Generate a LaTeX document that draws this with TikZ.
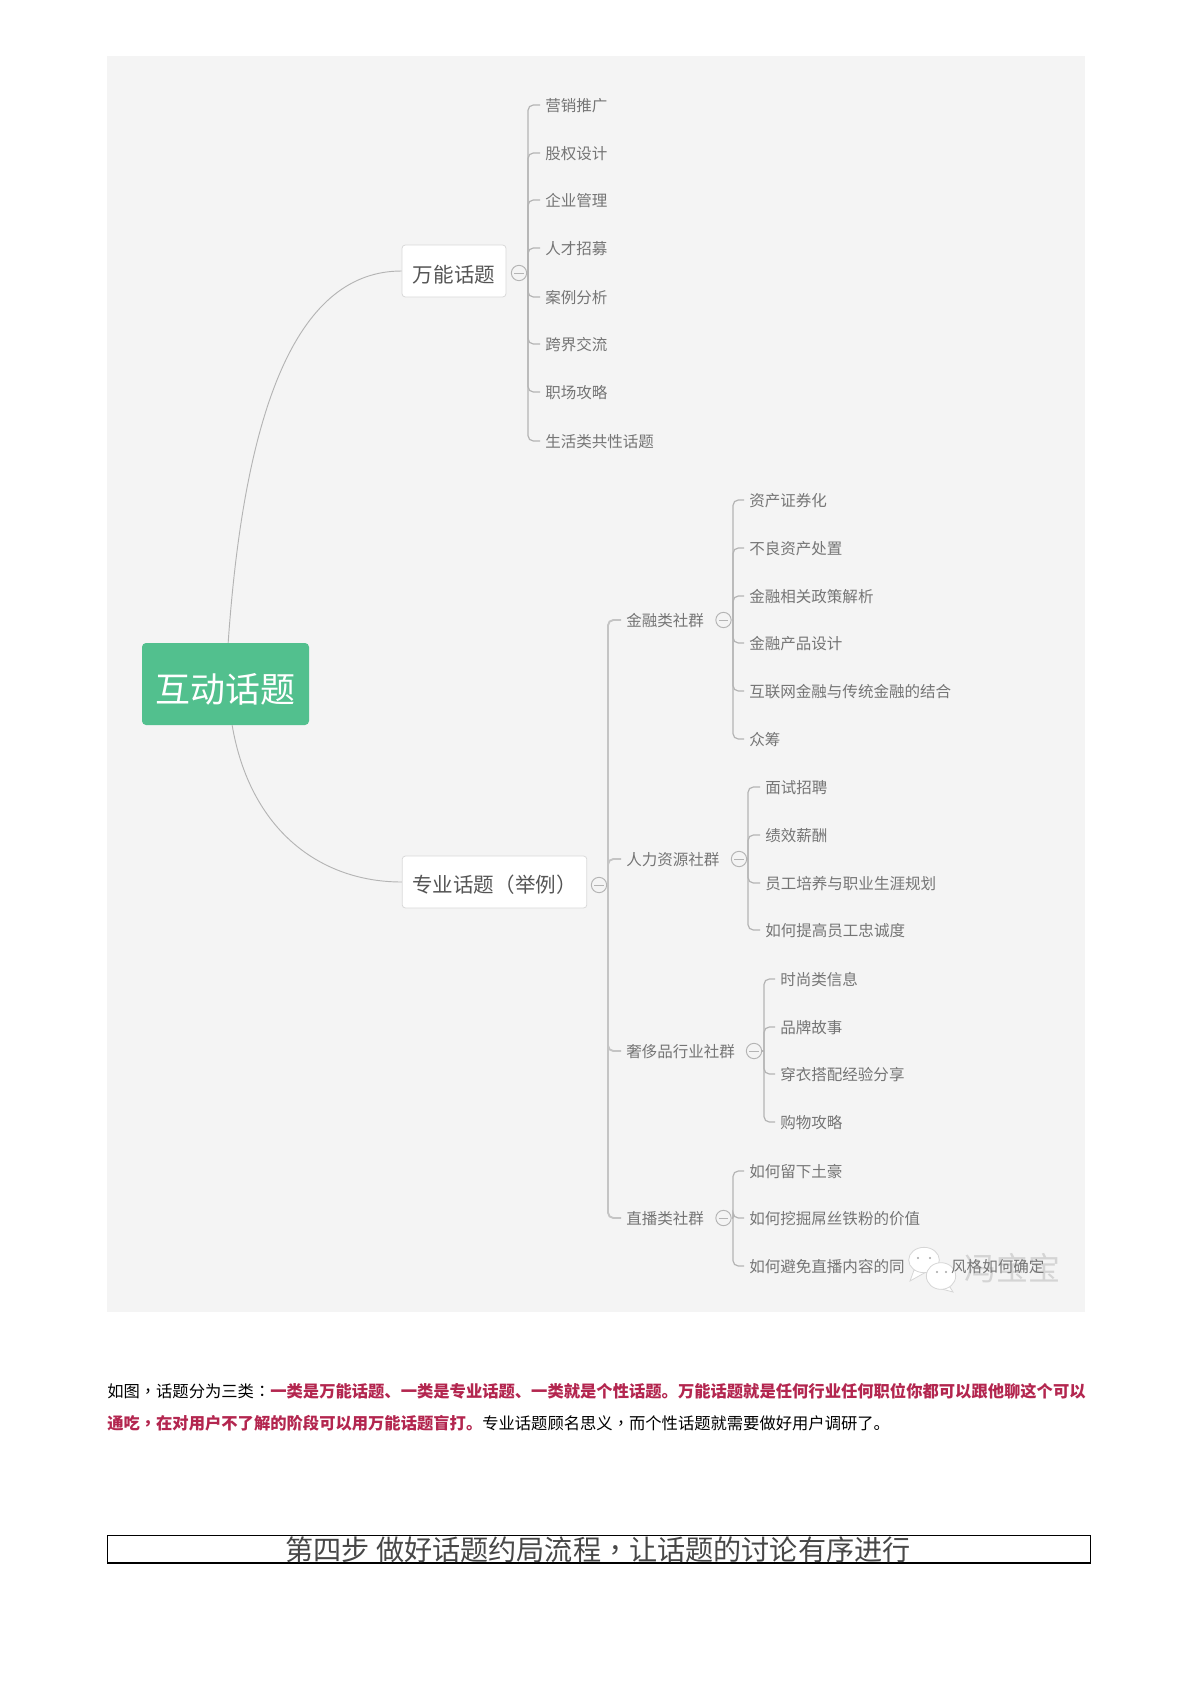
\documentclass[tikz,border=0pt]{standalone}
\usepackage{fontspec}
\setmainfont{Noto Sans CJK SC}
\newfontfamily\tcpunct{Noto Sans CJK TC}
\newcommand{\cpunct}[1]{{\tcpunct #1}}
\definecolor{panelc}{HTML}{F4F4F4}
\definecolor{rootc}{HTML}{52C08E}
\definecolor{redc}{HTML}{B3264F}
\definecolor{leafc}{HTML}{757575}
\definecolor{topc}{HTML}{555555}
\definecolor{linec}{HTML}{B4B4B4}
\definecolor{mainlinec}{HTML}{C4C4C4}
\tikzset{
  rootnode/.style={text height=.88em+20.5pt,text depth=.12em,inner ysep=0pt,rectangle,rounded corners=3pt,fill=rootc,text=white,font=\fontsize{26.2pt}{30pt}\selectfont,minimum width=125.25pt,minimum height=61.5pt},
  topic/.style={text depth=.12em,inner ysep=0pt,rectangle,rounded corners=2.5pt,draw=black!15,line width=.6pt,fill=white,text=topc,font=\fontsize{15.4pt}{18pt}\selectfont,inner xsep=0pt,minimum height=39pt},
  leaf/.style={text height=.88em+1.5pt,text depth=.12em,inner ysep=0pt,anchor=west,text=leafc,inner xsep=3.75pt,font=\fontsize{11.65pt}{14pt}\selectfont},
  toggle/.style={circle,draw=linec,fill=panelc,line width=.7pt,inner sep=0pt,minimum size=11.5pt,
    path picture={\draw[linec,line width=.7pt] ([xshift=-3.5pt]path picture bounding box.center) -- ([xshift=3.5pt]path picture bounding box.center);}},
  curveline/.style={draw=linec,line width=.7pt},
  trunkline/.style={draw=linec,line width=.9pt,rounded corners=4pt},
  maintrunk/.style={draw=mainlinec,line width=1.4pt,rounded corners=4pt},
  para/.style={anchor=west,inner sep=0pt,font=\fontsize{12.23pt}{14pt}\selectfont},
  headbox/.style={draw=black,line width=.6pt},
  bubble/.style={draw=black!16,fill=white,line width=.6pt},
}
\begin{document}
\begin{tikzpicture}[x=.75pt,y=-.75pt]
\useasboundingbox (0,0) rectangle (1200,1698);
\fill[panelc] (107,56) rectangle (1085,1312);

% root and topics
\node[rootnode] (root) at (225.5,684) {互动话题};
\node[topic,text height=.88em+9.6pt,minimum width=78pt] (w) at (454,271) {万能话题};
\node[topic,text height=.88em+8pt,minimum width=138.5pt] (z) at (494.5,882) {专业话题（举例）};
\draw[curveline] ([xshift=2pt]root.north) .. controls (245,400) and (300,271) .. (w.west);
\draw[curveline] ([xshift=5pt]root.south) .. controls (250,830) and (320,882) .. (z.west);

% watermark
\node[text=black!17,inner sep=0pt,font=\fontsize{24pt}{26pt}\selectfont] (wm) at (1012,1268) {冯宝宝};
\draw[bubble] (914,1270) -- (910,1281) -- (926,1272) -- cycle;
\draw[bubble] (924,1260) ellipse [x radius=11.5pt,y radius=9.5pt];
\draw[bubble] (948,1284) -- (953,1292) -- (938,1288) -- cycle;
\draw[bubble] (941,1276) ellipse [x radius=11pt,y radius=10pt];
\fill[black!35] (918,1258) circle (.9pt) (930,1258) circle (.9pt) (937,1272) circle (.9pt) (946,1272) circle (.9pt);

% branch wanneng
\node[toggle] (tw) at (519,273) {};
\coordinate (jw) at (528,273);
\draw[trunkline] (tw.east) -- (jw);
\foreach \n/\y/\t in {w1/105/营销推广,w2/153/股权设计,w3/200/企业管理,w4/248/人才招募,w5/297/案例分析,w6/344/跨界交流,w7/392/职场攻略,w8/441/生活类共性话题}{
  \node[leaf] (\n) at (540,\y) {\t};
  \draw[trunkline] (jw) |- (\n.west);
}

% branch zhuanye
\node[toggle] (tz) at (599,885) {};
\coordinate (jz) at (608,885);
\draw[maintrunk] (tz.east) -- (jz);
\foreach \n/\y/\t in {a/620/金融类社群,b/859/人力资源社群,c/1051/奢侈品行业社群,d/1218/直播类社群}{
  \node[leaf] (\n) at (621,\y) {\t};
  \draw[maintrunk] (jz) |- (\n.west);
}

\node[toggle] (ta) at (723.5,620) {};
\coordinate (ja) at (733,620);
\draw[trunkline] (ta.east) -- (ja);
\foreach \n/\y/\t in {a1/500/资产证券化,a2/548/不良资产处置,a3/596/金融相关政策解析,a4/643/金融产品设计,a5/691/互联网金融与传统金融的结合,a6/739/众筹}{
  \node[leaf] (\n) at (744,\y) {\t};
  \draw[trunkline] (ja) |- (\n.west);
}

\node[toggle] (tb) at (739,859) {};
\coordinate (jb) at (748,859);
\draw[trunkline] (tb.east) -- (jb);
\foreach \n/\y/\t in {b1/787/面试招聘,b2/835/绩效薪酬,b3/883/员工培养与职业生涯规划,b4/930/如何提高员工忠诚度}{
  \node[leaf] (\n) at (760,\y) {\t};
  \draw[trunkline] (jb) |- (\n.west);
}

\node[toggle] (tc) at (754,1051) {};
\coordinate (jc) at (764,1051);
\draw[trunkline] (tc.east) -- (jc);
\foreach \n/\y/\t in {c1/979/时尚类信息,c2/1027/品牌故事,c3/1074/穿衣搭配经验分享,c4/1122/购物攻略}{
  \node[leaf] (\n) at (775,\y) {\t};
  \draw[trunkline] (jc) |- (\n.west);
}

\node[toggle] (td) at (723.5,1218) {};
\coordinate (jd) at (733,1218);
\draw[trunkline] (td.east) -- (jd);
\foreach \n/\y/\t in {d1/1171/如何留下土豪,d2/1218/如何挖掘屌丝铁粉的价值,d3/1266/如何避免直播内容的同\hspace{3em}风格如何确定}{
  \node[leaf] (\n) at (744,\y) {\t};
  \draw[trunkline] (jd) |- (\n.west);
}

% paragraph
\node[para] (p1) at (107,1391) {如图\cpunct{，}话题分为三类\cpunct{：}\textcolor{redc}{\bfseries 一类是万能话题、一类是专业话题、一类就是个性话题。万能话题就是任何行业任何职位你都可以跟他聊这个可以}};
\node[para] (p2) at (107,1423) {\textcolor{redc}{\bfseries 通吃\cpunct{，}在对用户不了解的阶段可以用万能话题盲打。}专业话题顾名思义\cpunct{，}而个性话题就需要做好用户调研了。};

% heading
\draw[headbox] (107.5,1535) rectangle (1090,1563);
\draw[headbox,line width=1pt] (107.5,1563) -- (1090,1563);
\node[inner sep=0pt,text=black!72,font=\fontsize{21.1pt}{24pt}\selectfont] (h) at (598,1550) {第四步 做好话题约局流程\cpunct{，}让话题的讨论有序进行};
\end{tikzpicture}
\end{document}
